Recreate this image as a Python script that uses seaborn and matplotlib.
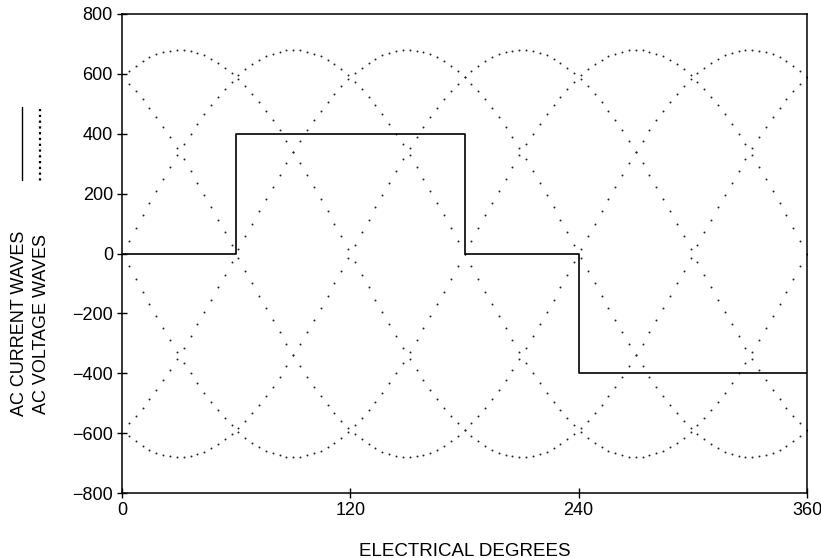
import numpy as np
import pandas as pd
import matplotlib
matplotlib.use("Agg")
import matplotlib.pyplot as plt
import seaborn as sns
from matplotlib.lines import Line2D

# ---- data ----
sample_step_deg = 3.6
sample_count = 100
voltage_amplitude = 680
voltage_peak_angles = [30, 90, 150, 210, 270, 330]

current_edges = [0, 60, 180, 240, 360]
current_levels = [0, 400, 0, -400, -400]

x_ticks = [0, 120, 240, 360]
y_ticks = [-800, -600, -400, -200, 0, 200, 400, 600, 800]

# ---- build tables ----
deg = np.arange(1, sample_count + 1) * sample_step_deg
rows = []
for p in voltage_peak_angles:
    for d in deg:
        rows.append({"phase": p, "deg": d,
                     "v": voltage_amplitude * np.cos(np.radians(d - p))})
volt = pd.DataFrame(rows)
cur = pd.DataFrame({"deg": current_edges, "i": current_levels})

sns.set_theme(style="ticks")
plt.rcParams["font.family"] = ["Liberation Sans", "DejaVu Sans"]
plt.rcParams["text.color"] = "black"

W, H = 821, 558
fig = plt.figure(figsize=(W / 100, H / 100), dpi=100)
ax = fig.add_axes([122 / W, 1 - 493 / H, (807 - 122) / W, (493 - 14) / H])

sns.scatterplot(data=volt, x="deg", y="v", ax=ax, color="#222222",
                s=2.0, linewidth=0, marker="o", legend=False)
sns.lineplot(data=cur, x="deg", y="i", ax=ax, color="black",
             linewidth=1.2, drawstyle="steps-post", legend=False)

ax.set_xlim(0, 360)
ax.set_ylim(-800, 800)
ax.set_xticks(x_ticks)
ax.set_yticks(y_ticks)
ax.set_xlabel("ELECTRICAL DEGREES", fontsize=13.5, labelpad=17, color="black")
ax.set_ylabel("")
ax.tick_params(direction="inout", length=7, width=1, labelsize=13,
               colors="black", pad=3)
for s in ax.spines.values():
    s.set_visible(True)
    s.set_color("black")
    s.set_linewidth(1.1)

# legend samples and labels at left margin (vertical)
fig.add_artist(Line2D([22 / W, 22 / W], [1 - 107 / H, 1 - 180 / H],
                      color="black", linewidth=1.0))
fig.add_artist(Line2D([40 / W, 40 / W], [1 - 109 / H, 1 - 182 / H],
                      color="black", linewidth=1.6, linestyle=(0, (1, 1.6))))
fig.text(20 / W, 1 - 323.5 / H, "AC CURRENT WAVES", rotation=90,
         ha="center", va="center", fontsize=13, color="black")
fig.text(42 / W, 1 - 323.5 / H, "AC VOLTAGE WAVES", rotation=90,
         ha="center", va="center", fontsize=13, color="black")

fig.savefig("out.png", dpi=100)
